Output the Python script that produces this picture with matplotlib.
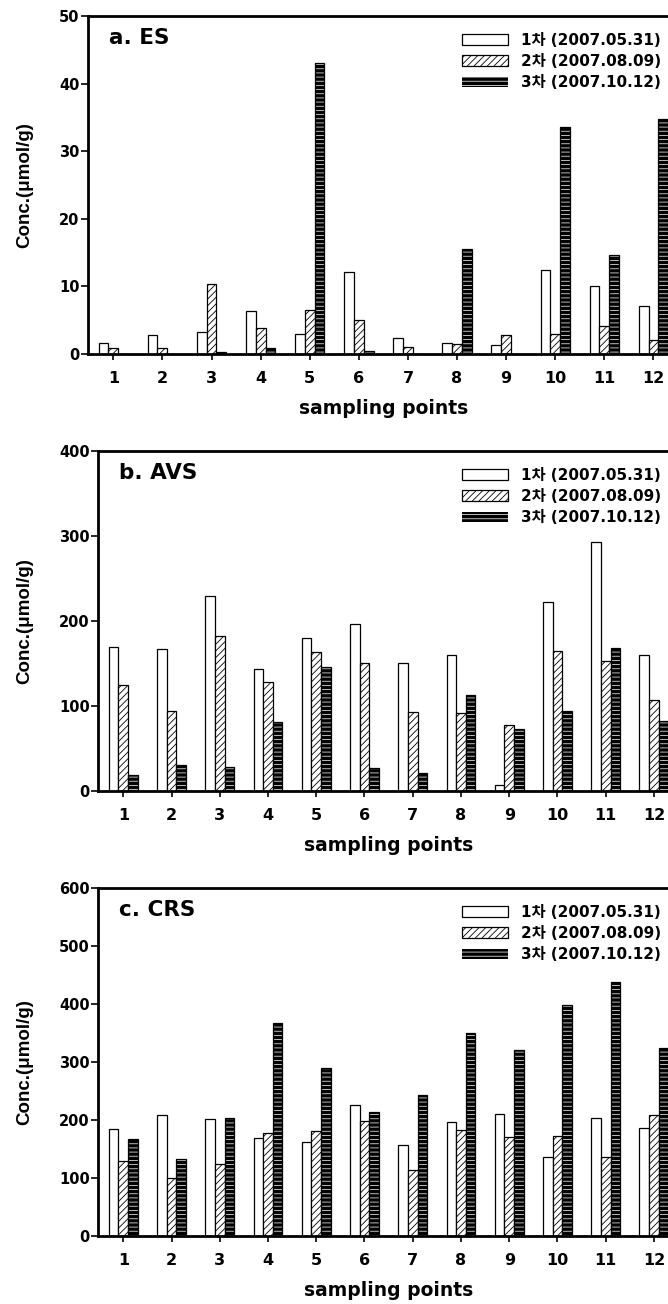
import numpy as np
import matplotlib.pyplot as plt
from matplotlib.patches import Patch

plt.rcParams['font.family'] = ['DejaVu Sans', 'Noto Sans CJK KR']
plt.rcParams['font.weight'] = 'bold'
plt.rcParams['axes.labelweight'] = 'bold'
plt.rcParams['hatch.linewidth'] = 0.6

# --- data ---
points = np.arange(1, 13)
series_labels = ['1차 (2007.05.31)', '2차 (2007.08.09)', '3차 (2007.10.12)']

es_1 = [1.6, 2.8, 3.3, 6.3, 2.9, 12.2, 2.3, 1.7, 1.3, 12.5, 10.1, 7.1]
es_2 = [0.95, 0.85, 10.3, 3.8, 6.5, 5.0, 1.1, 1.5, 2.8, 3.0, 4.1, 2.05]
es_3 = [0.0, 0.0, 0.25, 0.85, 43.1, 0.5, 0.0, 15.6, 0.0, 33.6, 14.7, 34.8]

avs_1 = [169, 166.5, 230, 143, 180.5, 196, 151, 160, 7, 222.5, 293, 160]
avs_2 = [124.5, 94.5, 182, 128, 163, 151, 92.5, 92, 77.5, 164.5, 153, 107]
avs_3 = [18.5, 31, 28, 81.5, 145.5, 26.5, 21.5, 113.5, 73, 94.5, 168.5, 82]

crs_1 = [184.5, 209, 201, 168.5, 161.5, 225.5, 156.5, 196, 210, 136, 203, 186]
crs_2 = [130, 99.5, 124, 177, 181, 198, 114, 182.5, 170, 172, 136, 208.5]
crs_3 = [167, 132, 204, 367, 289.5, 213, 243.5, 350, 321, 398.5, 438, 325]

W, H = 668, 1304
fig = plt.figure(figsize=(W / 100, H / 100), dpi=100)


def px_rect(left, top, right, bottom):
    return [left / W, 1 - bottom / H, (right - left) / W, (bottom - top) / H]


panels = [
    # (left, top, bottom, xmin, title, data, ymax, step)
    (88, 16, 354, 0.485, 'a. ES', (es_1, es_2, es_3), 50, 10),
    (98, 451, 791, 0.476, 'b. AVS', (avs_1, avs_2, avs_3), 400, 100),
    (98, 888, 1236, 0.476, 'c. CRS', (crs_1, crs_2, crs_3), 600, 100),
]

stripe = '#dadada'
w = 0.2
for left, top, bottom, xmin, title, (s1, s2, s3), ymax, step in panels:
    ax = fig.add_axes(px_rect(left, top, 680, bottom))
    ax.bar(points - w, s1, w, color='white', edgecolor='black', linewidth=0.9)
    ax.bar(points, s2, w, color='white', edgecolor='black', linewidth=0.9,
           hatch='/////')
    ax.bar(points + w, s3, w, color='black', edgecolor=stripe, linewidth=0,
           hatch='----')
    ax.bar(points + w, s3, w, fill=False, edgecolor='black', linewidth=0.9)

    ax.set_xlim(xmin, 12.54)
    ax.set_ylim(0, ymax)
    ax.set_xticks(points)
    ax.set_yticks(np.arange(0, ymax + 1, step))
    for sp in ax.spines.values():
        sp.set_linewidth(2)
    ax.tick_params(axis='y', direction='out', length=5, width=1.2, pad=1,
                   labelsize=10.5)
    ax.tick_params(axis='x', direction='out', length=4.5, width=1.2, pad=8,
                   labelsize=11.5)

    ax.set_xlabel('sampling points', fontsize=13.5, fontweight='bold', labelpad=9)
    ax.set_ylabel('Conc.(μmol/g)', fontsize=13.5, fontweight='bold',
                  family=['Liberation Sans Narrow', 'Liberation Sans', 'DejaVu Sans'])
    ax.yaxis.set_label_coords(33 / W, 1 - (top + bottom) / 2 / H,
                              transform=fig.transFigure)

    ax.annotate(title, xy=(0, 1), xycoords='axes fraction',
                xytext=(21, -22), textcoords='offset pixels',
                ha='left', va='center', fontsize=15.5, fontweight='bold')

    handles = [
        Patch(facecolor='white', edgecolor='black', linewidth=0.9),
        Patch(facecolor='white', edgecolor='black', linewidth=0.9, hatch='/////'),
        Patch(facecolor='black', edgecolor=stripe, linewidth=0, hatch='----'),
    ]
    ax.legend(handles, series_labels, loc='upper left',
              bbox_to_anchor=(462 / W, 1 - (top + 17) / H),
              bbox_transform=fig.transFigure, frameon=False,
              fontsize=11, handlelength=3.0, handleheight=0.7,
              handletextpad=0.85, labelspacing=0.4,
              borderpad=0, borderaxespad=0)

fig.savefig('out.png', dpi=100)
